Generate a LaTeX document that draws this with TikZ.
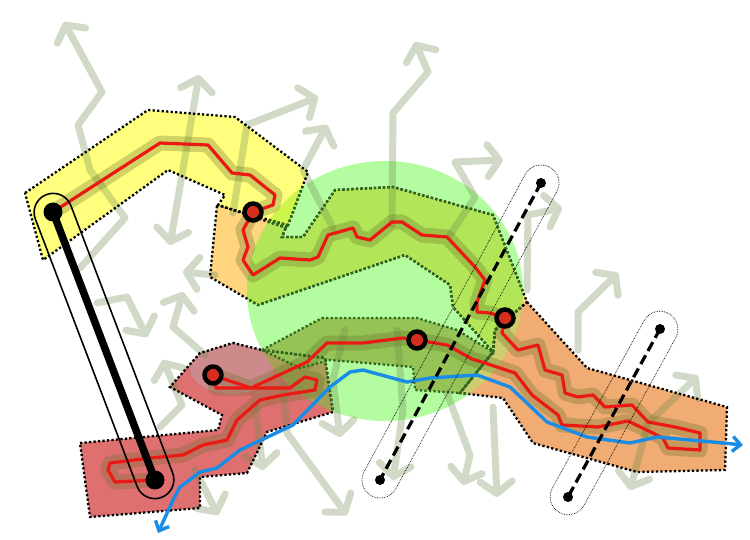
\documentclass[tikz,border=0pt]{standalone}
\usetikzlibrary{arrows.meta,shapes.misc}
\definecolor{circ}{RGB}{180,252,160}
\definecolor{Aout}{RGB}{255,255,125}
\definecolor{Ain}{RGB}{205,245,75}
\definecolor{Bout}{RGB}{255,213,128}
\definecolor{Bin}{RGB}{178,230,88}
\definecolor{Cc}{RGB}{150,195,85}
\definecolor{Dout}{RGB}{222,112,112}
\definecolor{Din}{RGB}{165,160,85}
\definecolor{Dmauve}{RGB}{205,138,138}
\definecolor{Eout}{RGB}{240,172,115}
\definecolor{Ein}{RGB}{205,205,110}
\definecolor{sage}{RGB}{110,140,80}
\definecolor{haloc}{RGB}{100,110,40}
\definecolor{redc}{RGB}{235,25,20}
\definecolor{ptred}{RGB}{215,45,30}
\definecolor{bluec}{RGB}{25,140,230}
\definecolor{dgreen}{RGB}{45,105,30}
\def\circpath{(385,291) ellipse [x radius=138, y radius=130]}
\def\polyA{(25,193)--(148,110)--(235,117)--(308,172)--(287,228)--(218,205)--(225,195)--(168,170)--(43,260)--cycle}
\def\polyB{(217,205)--(287,225)--(282,237)--(303,237)--(335,190)--(393,187)--(493,215)--(527,302)--(495,330)--(493,352)--(453,307)--(450,285)--(405,255)--(258,305)--(210,277)--cycle}
\def\polyC{(262,350)--(322,318)--(417,318)--(457,330)--(493,352)--(460,393)--(415,390)--(413,367)--(330,360)--(300,368)--cycle}
\def\polyD{(80,443)--(218,430)--(222,415)--(170,387)--(200,353)--(233,343)--(262,350)--(325,358)--(333,412)--(267,432)--(247,473)--(200,477)--(200,508)--(90,517)--cycle}
\def\polyE{(527,302)--(587,368)--(727,407)--(725,470)--(637,472)--(533,443)--(503,398)--(460,393)--(493,352)--(495,330)--cycle}
\def\redA{(53,212)--(160,143)--(208,145)--(232,173)--(250,175)--(275,195)--(273,205)--(253,212)}
\def\redB{(253,212)--(243,230)--(248,247)--(243,260)--(253,275)--(280,258)--(310,260)--(318,257)--(328,235)--(353,228)--(357,237)--(370,240)--(392,222)--(402,222)--(422,235)--(447,237)--(475,267)--(485,280)--(477,302)--(477,312)--(490,313)--(505,318)}
\def\redC{(505,318)--(502,333)--(518,350)--(538,345)--(545,370)--(562,375)--(565,393)--(578,397)--(593,395)--(605,407)--(632,405)--(648,422)--(675,427)--(700,433)--(700,450)--(668,448)--(663,438)}
\def\redD{(417,340)--(447,345)--(472,359)--(485,363)--(515,373)--(532,395)--(558,415)--(562,425)--(598,427)--(628,421)--(663,438)}
\def\redE{(213,375)--(227,380)--(251,388)--(307,362)--(327,343)--(363,343)--(403,338)--(417,340)}
\def\redF{(213,375)--(216,388)--(290,388)--(305,377)--(317,380)--(315,390)--(283,395)--(260,400)--(237,420)--(227,440)--(203,445)--(183,455)--(150,458)--(110,463)--(108,470)--(115,482)--(155,480)}
\tikzset{
  edge/.style={line width=2.3pt, dash pattern=on 2.3pt off 2.2pt},
  garrow/.style={draw=sage, line width=7pt, line cap=round, line join=round, -{Straight Barb[length=12pt,width=32pt,round]}},
  garrowtwo/.style={draw=sage, line width=7pt, line cap=round, line join=round, {Straight Barb[length=12pt,width=32pt,round]}-{Straight Barb[length=12pt,width=32pt,round]}},
  halo/.style={draw=haloc, line width=15pt, line cap=round, line join=round},
  redline/.style={draw=redc, line width=3.2pt, line cap=round, line join=round},
  capsule/.style={rounded rectangle, inner sep=0pt, draw=black},
  ringpt/.style={circle, draw=black, line width=4.5pt, fill=ptred, minimum size=17pt, inner sep=0pt},
  bigdot/.style={circle, fill=black, minimum size=19pt, inner sep=0pt},
  smalldot/.style={circle, fill=black, minimum size=10pt, inner sep=0pt},
  dashline/.style={line width=3.2pt, dash pattern=on 10pt off 5pt},
}
\begin{document}
\begin{tikzpicture}[x=1pt,y=-1pt]
\useasboundingbox (0,0) rectangle (750,540);
% green circle
\fill[circ] \circpath;
% polygon fills
\fill[Aout] \polyA;
\fill[Bout] \polyB;
\fill[Dout] \polyD;
\begin{scope}
  \clip \polyD;
  \fill[Dmauve] (232,368) ellipse [x radius=42, y radius=26];
\end{scope}
\fill[Eout] \polyE;
\begin{scope}
  \clip \circpath;
  \fill[Ain] \polyA;
  \fill[Bin] \polyB;
  \fill[Din] \polyD;
  \fill[Ein] \polyE;
\end{scope}
\fill[Cc] \polyC;
% background arrows
\begin{scope}[transparency group, opacity=0.32]
  \draw[garrow] (80,268)--(125,218)--(90,170)--(78,125)--(102,92)--(64,22);
  \draw[garrowtwo] (170,245)--(199,75);
  \draw[garrow] (233,213)--(247,125)--(318,97);
  \draw[garrow] (333,228)--(303,170)--(327,125);
  \draw[garrow] (392,225)--(393,113)--(428,72)--(415,42);
  \draw[garrow] (450,235)--(475,197)--(455,162)--(503,160);
  \draw[garrow] (527,290)--(528,215)--(562,208);
  \draw[garrow] (578,350)--(578,312)--(618,273);
  \draw[garrowtwo] (630,490)--(648,423)--(698,376);
  \draw[garrow] (97,303)--(127,297)--(147,337);
  \draw[garrow] (215,275)--(183,272);
  \draw[garrow] (205,355)--(173,327)--(183,292);
  \draw[garrow] (160,427)--(182,405)--(163,360);
  \draw[garrow] (195,470)--(218,515);
  \draw[garrow] (255,405)--(263,470);
  \draw[garrow] (283,385)--(287,433)--(347,515);
  \draw[garrow] (345,330)--(333,380)--(340,437);
  \draw[garrow] (447,393)--(470,455)--(463,485);
  \draw[garrow] (493,407)--(497,497);
  \draw[garrow] (397,330)--(403,410)--(393,480);
\end{scope}
% halos
\begin{scope}[transparency group, opacity=0.3]
  \draw[halo] \redA;
  \draw[halo] \redB;
  \draw[halo] \redC;
  \draw[halo] \redD;
  \draw[halo] \redE;
  \draw[halo] \redF;
\end{scope}
% dotted edges
\draw[edge] \polyA;
\draw[edge] \polyB;
\draw[edge] \polyD;
\draw[edge] \polyE;
\begin{scope}
  \clip \circpath;
  \draw[edge, draw=dgreen] \polyA;
  \draw[edge, draw=dgreen] \polyB;
  \draw[edge, draw=dgreen] \polyD;
  \draw[edge, draw=dgreen] \polyE;
\end{scope}
\draw[edge, draw=dgreen] \polyC;
% red paths
\draw[redline] \redA;
\draw[redline] \redB;
\draw[redline] \redC;
\draw[redline] \redD;
\draw[redline] \redE;
\draw[redline] \redF;
% blue path
\draw[draw=bluec, line width=3.4pt, line join=round, {Straight Barb[length=8pt,width=15pt]}-{Straight Barb[length=8pt,width=15pt]}]
  (158,533)--(173,500)--(180,487)--(200,472)--(217,468)--(240,450)--(293,425)--(330,387)--(350,372)--(363,370)--(407,382)--(430,378)--(477,375)--(510,387)--(547,422)--(587,437)--(630,443)--(657,437)--(723,443)--(743,445);
% capsules
\node[capsule, line width=1.6pt, minimum width=324pt, minimum height=38pt, rotate=-69.16] (cap1) at (104,346) {};
\node[capsule, line width=0.7pt, densely dotted, minimum width=374pt, minimum height=36pt, rotate=61.54] (cap2) at (460.5,331.5) {};
\node[capsule, line width=0.7pt, densely dotted, minimum width=227pt, minimum height=36pt, rotate=61.29] (cap3) at (614,413) {};
% black line and dots
\node[bigdot] (k1) at (53,212) {};
\node[bigdot] (k2) at (155,480) {};
\draw[line width=7.5pt] (k1.center) -- (k2.center);
\node[smalldot] (d1) at (541,183) {};
\node[smalldot] (d2) at (380,480) {};
\draw[dashline] (d1.center) -- (d2.center);
\node[smalldot] (d3) at (660,329) {};
\node[smalldot] (d4) at (568,497) {};
\draw[dashline] (d3.center) -- (d4.center);
% ring points
\node[ringpt] (p1) at (253,212) {};
\node[ringpt] (p2) at (417,340) {};
\node[ringpt] (p3) at (505,318) {};
\node[ringpt] (p4) at (213,375) {};
\end{tikzpicture}
\end{document}
